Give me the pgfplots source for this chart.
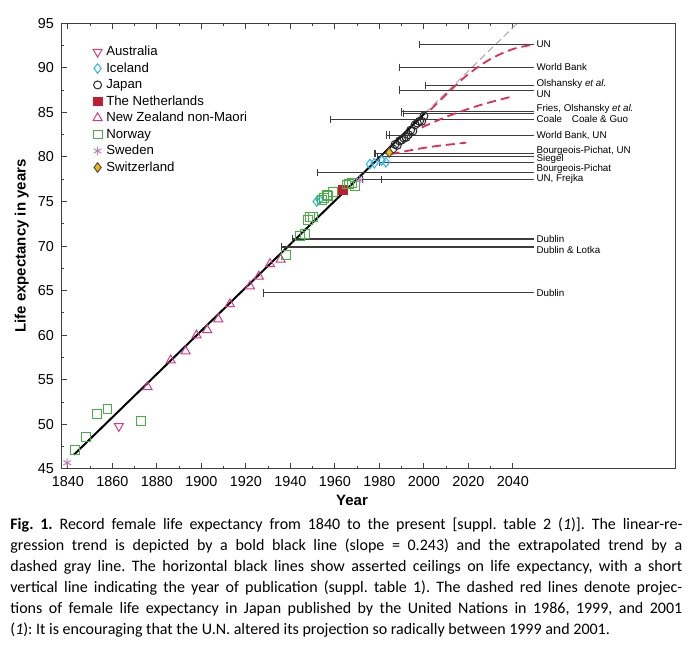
\documentclass[border=0pt]{standalone}
\usepackage{pgfplots}
\pgfplotsset{compat=1.18}
\usepackage{fontspec}
\setmainfont{Liberation Sans}
\newfontfamily\capfont{Carlito}

\definecolor{ausred}{RGB}{214,60,120}
\definecolor{icecyan}{RGB}{40,180,225}
\definecolor{nlred}{RGB}{190,30,50}
\definecolor{nzpink}{RGB}{205,60,140}
\definecolor{norgreen}{RGB}{70,175,70}
\definecolor{swepurple}{RGB}{185,130,185}
\definecolor{chorange}{RGB}{245,185,0}
\definecolor{projred}{RGB}{225,45,80}
\definecolor{ceilgray}{RGB}{60,60,60}

\pgfplotsset{
  ceil/.style={ceilgray, line width=0.55pt, mark=|, mark indices={1},
    mark size=1.8pt, mark options={solid, line width=0.55pt}, forget plot},
  proj/.style={projred, line width=0.9pt, dash pattern=on 4.5pt off 2.5pt, forget plot},
  mk/.style={only marks, line width=0.5pt,
    legend image code/.code={\path (-2.5pt,0pt) (3.6pt,0pt);
      \draw[##1] plot coordinates {(0pt,0pt)};}},
}
\newcommand{\clab}[2]{\node[anchor=west, inner sep=0pt,
  font=\fontsize{4.9}{5}\selectfont] at (axis cs:2050.4,#1) {#2};}

\begin{document}
\begin{tikzpicture}
\begin{axis}[
  name=ax, scale only axis, width=307pt, height=222.9pt,
  xmin=1836.9, xmax=2112.8, ymin=45, ymax=95,
  xtick={1840,1860,...,2040}, minor xtick={1850,1870,...,2030},
  ytick={45,50,...,95}, minor ytick={47.5,52.5,...,92.5},
  xtick pos=both, ytick pos=left, tick align=inside,
  major tick length=3pt, minor tick length=1.6pt,
  axis line style={black!75, line width=0.5pt},
  every tick/.style={black!75, line width=0.5pt},
  tick label style={font=\fontsize{7.2}{8}\selectfont},
  /pgf/number format/assume math mode=true,
  /pgf/number format/1000 sep={},
  xlabel={Year}, ylabel={Life expectancy in years},
  label style={font=\fontsize{7.5}{8}\selectfont\bfseries},
  xlabel style={at={(axis description cs:0.474,-0.0696)}, anchor=center},
  ylabel style={at={(axis description cs:-0.064,0.5)}, anchor=center},
  clip mode=individual,
  legend cell align=left,
  legend style={at={(rel axis cs:0.050,0.953)}, anchor=north west,
    draw=none, fill=none, inner sep=0pt, row sep=0.85pt,
    font=\fontsize{6.6}{7}\selectfont,
    nodes={text height=5pt, text depth=1.4pt, inner sep=0.5pt}},
]
% regression trend and its extrapolation
\addplot[black, line width=1pt, forget plot] coordinates {(1842.7,46.6)(2000.4,84.9)};
\addplot[black!35, line width=0.5pt, dash pattern=on 3.5pt off 2pt, forget plot]
  coordinates {(2000.4,84.9)(2042.5,95.13)};

% asserted ceilings (year of publication, level)
\addplot[ceil] coordinates {(1998,92.6)(2049.5,92.6)};
\addplot[ceil] coordinates {(1989,90.05)(2049.5,90.05)};
\addplot[ceil] coordinates {(2000.8,88.05)(2049.5,88.05)};
\addplot[ceil] coordinates {(1989,87.5)(2049.5,87.5)};
\addplot[ceil] coordinates {(1990,85.05)(2049.5,85.05)};
\addplot[ceil] coordinates {(1990.8,84.9)(2049.5,84.9)};
\addplot[ceil] coordinates {(1958,84.2)(2049.5,84.2)};
\addplot[ceil] coordinates {(1983.3,82.45)(2049.5,82.45)};
\addplot[ceil] coordinates {(1984.4,82.45)(2049.5,82.45)};
\addplot[ceil] coordinates {(1978,80.35)(2049.5,80.35)};
\addplot[ceil] coordinates {(1979,80.05)(2049.5,80.05)};
\addplot[ceil] coordinates {(1980,79.4)(2049.5,79.4)};
\addplot[ceil] coordinates {(1952,78.25)(2049.5,78.25)};
\addplot[ceil] coordinates {(1972.5,77.45)(2049.5,77.45)};
\addplot[ceil] coordinates {(1981,77.45)(2049.5,77.45)};
\addplot[ceil] coordinates {(1941,70.8)(2049.5,70.8)};
\addplot[ceil] coordinates {(1936,69.9)(2049.5,69.9)};
\addplot[ceil] coordinates {(1928,64.75)(2049.5,64.75)};

% UN projections for Japan (1986, 1999, 2001)
\addplot[proj, smooth] coordinates {(1985,80.3)(1995,80.8)(2005,81.2)(2019,81.6)};
\addplot[proj, smooth] coordinates {(1999,83.3)(2010,84.5)(2025,85.8)(2040,86.8)};
\addplot[proj, smooth] coordinates {(2003,85.3)(2012,87.5)(2020,89.3)(2030,91.0)(2040,92.1)(2049,92.6)};

\clab{92.6}{UN}
\clab{90.05}{World Bank}
\clab{88.2}{Olshansky \textit{et al.}}
\clab{87.0}{UN}
\clab{85.4}{Fries, Olshansky \textit{et al.}}
\clab{84.3}{Coale\quad Coale \& Guo}
\clab{82.4}{World Bank, UN}
\clab{80.72}{Bourgeois-Pichat, UN}
\clab{79.76}{Siegel}
\clab{78.64}{Bourgeois-Pichat}
\clab{77.5}{UN, Frejka}
\clab{70.8}{Dublin}
\clab{69.6}{Dublin \& Lotka}
\clab{64.7}{Dublin}

% record female life expectancy by country
\addplot[mk, ausred, mark=triangle, mark size=2.6pt, mark options={rotate=180}]
  coordinates {(1862.9,49.8)};
\addlegendentry{Australia}
\addplot[mk, icecyan, mark=diamond, mark size=2.4pt]
  coordinates {(1951.8,75.0)(1953,75.2)(1975.7,79.2)(1977.7,79.3)(1981,79.6)(1982.9,79.4)};
\addlegendentry{Iceland}
\addplot[mk, black!85, mark=o, mark size=2pt]
  coordinates {(1986,80.9)(1987,81.4)(1988,81.3)(1989,81.8)(1990,81.9)(1991,82.1)
  (1992,82.2)(1993,82.5)(1994,83.0)(1995,82.9)(1996,83.6)(1997,83.8)(1998,84.0)
  (1999,84.0)(2000,84.6)};
\addlegendentry{Japan}
\addplot[mk, nlred, mark=square*, mark size=2.2pt]
  coordinates {(1963.7,76.3)};
\addlegendentry{The Netherlands}
\addplot[mk, nzpink, mark=triangle, mark size=2.6pt]
  coordinates {(1875.8,54.2)(1886.2,57.2)(1892.9,58.2)(1897.8,60.0)(1902.6,60.6)
  (1907.6,61.8)(1912.8,63.5)(1921.8,65.5)(1925.8,66.6)(1930.8,68.0)(1935.6,68.5)};
\addlegendentry{New Zealand non-Maori}
\addplot[mk, norgreen, mark=square, mark size=2.2pt]
  coordinates {(1843.1,47.1)(1848.1,48.6)(1853.2,51.2)(1857.8,51.7)(1872.8,50.4)
  (1938,69.0)(1944.3,71.1)(1946.5,71.4)(1948,72.9)(1948.8,73.3)(1950,73.3)
  (1954,75.2)(1955,75.4)(1956.3,75.7)(1957,75.6)(1959.2,76.1)(1965.2,76.9)
  (1966.3,77.0)(1967.5,77.1)(1969,76.7)};
\addlegendentry{Norway}
\addplot[mk, swepurple, mark=asterisk, mark size=2.2pt]
  coordinates {(1839.7,45.7)(1971.2,77.4)};
\addlegendentry{Sweden}
\addplot[mk, black!70, mark=diamond*, mark size=2.4pt, mark options={fill=chorange}]
  coordinates {(1984.4,80.5)};
\addlegendentry{Switzerland}
\end{axis}
\path (ax.south west) ++(-30.5pt,-88.5pt) rectangle ++(347.5pt,323pt);
\node[anchor=north west, inner sep=0pt, text width=336pt, align=justify,
  font=\capfont\fontsize{8}{10.5}\selectfont\frenchspacing]
  at ([xshift=-25.5pt,yshift=-24pt]ax.south west)
  {\textbf{Fig. 1.} Record female life expectancy from 1840 to the present [suppl. table 2 (\textit{1})]. The linear-re-\linebreak
  gression trend is depicted by a bold black line (slope = 0.243) and the extrapolated trend by a\linebreak
  dashed gray line. The horizontal black lines show asserted ceilings on life expectancy, with a short\linebreak
  vertical line indicating the year of publication (suppl. table 1). The dashed red lines denote projec-\linebreak
  tions of female life expectancy in Japan published by the United Nations in 1986, 1999, and 2001\linebreak
  (\textit{1}): It is encouraging that the U.N. altered its projection so radically between 1999 and 2001.\par};
\end{tikzpicture}
\end{document}
